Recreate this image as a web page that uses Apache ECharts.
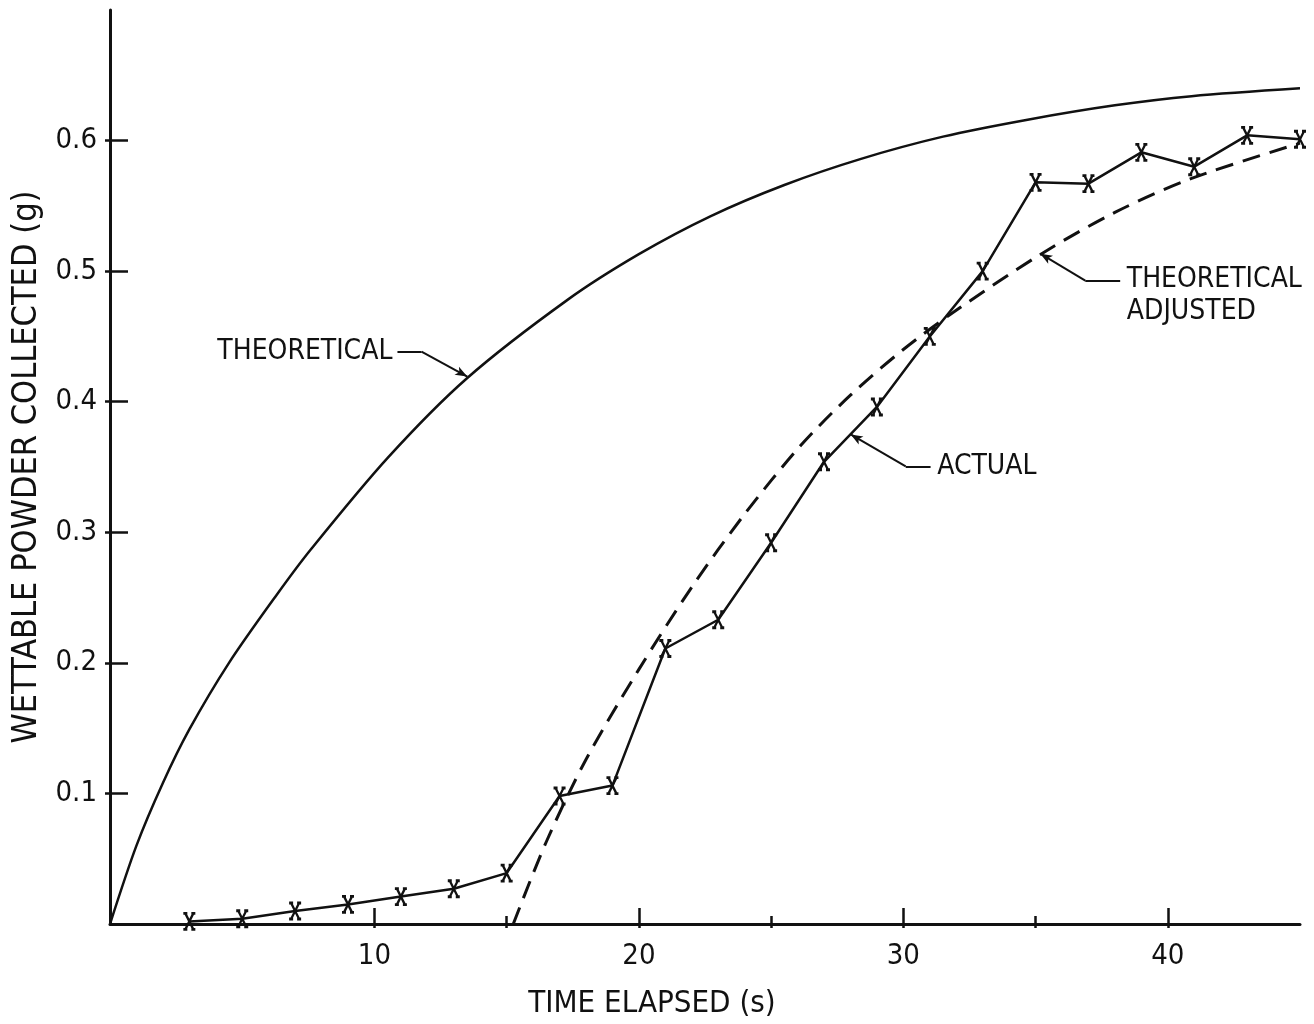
<!DOCTYPE html>
<html>
<head>
<meta charset="utf-8">
<script src="https://cdn.jsdelivr.net/npm/echarts@6/dist/echarts.min.js"></script>
<style>
  html, body { margin: 0; padding: 0; background: #fff; }
  #chart { width: 1314px; height: 1024px; }
</style>
</head>
<body>
<div id="chart"></div>
<script>
// measured points (x = time in s, y = grams)
const actualTime = [3, 5, 7, 9, 11, 13, 15, 17, 19, 21, 23, 25, 27, 29, 31, 33, 35, 37, 39, 41, 43, 45];
const actualValues = [0.002, 0.004, 0.010, 0.015, 0.021, 0.027, 0.039, 0.098, 0.106, 0.211, 0.233, 0.292,
  0.354, 0.396, 0.450, 0.500, 0.568, 0.567, 0.591, 0.580, 0.604, 0.601];

// theoretical curve
const theoreticalTime = [0, 1, 2, 3, 4.5, 6.3, 7.6, 10.5, 13.5, 17.3, 20, 22.7, 25.5, 28.4, 31.5, 34.7, 38, 40.9, 45];
const theoreticalValues = [0, 0.06, 0.108, 0.149, 0.2, 0.252, 0.287, 0.357, 0.418, 0.478, 0.513, 0.542, 0.566,
  0.586, 0.603, 0.616, 0.627, 0.634, 0.640];

// theoretical adjusted (dashed)
const adjustedTime = [15.25, 16.5, 18, 20, 22, 24, 26.1, 28, 30, 32, 35.2, 38, 40.9, 45];
const adjustedValues = [0, 0.063, 0.126, 0.195, 0.258, 0.314, 0.366, 0.405, 0.44, 0.47, 0.513, 0.545, 0.571, 0.598];

const yTickValues = [0.1, 0.2, 0.3, 0.4, 0.5, 0.6];
const xTickValues = [10, 20, 30, 40];
const xMinorTickValues = [15, 25, 35];

const INK = '#111';
const LETTER = "'DejaVu Sans Condensed', 'Liberation Sans Narrow', sans-serif";

function pairs(xs, ys) {
  return xs.map((x, i) => [x, ys[i]]);
}

// callout leader lines and their text (in data coordinates)
const calloutLines = [
  [[10.87, 0.4384], [11.78, 0.4384], [13.51, 0.4193]],
  [[31.03, 0.3504], [30.09, 0.3504], [28.01, 0.3749]],
  [[38.2, 0.4927], [36.88, 0.4927], [35.18, 0.5134]]
];
const calloutText = [
  { name: 'THEORETICAL', coord: [4.04, 0.4384] },
  { name: 'ACTUAL', coord: [31.26, 0.3504] },
  { name: 'THEORETICAL\nADJUSTED', coord: [38.43, 0.4813] }
];

function leaderSegments() {
  const segs = [];
  calloutLines.forEach(p => {
    segs.push([{ coord: p[0], symbol: 'none' }, { coord: p[1], symbol: 'none' }]);
    segs.push([{ coord: p[1], symbol: 'none' }, { coord: p[2], symbol: 'arrow', symbolSize: [7, 12] }]);
  });
  return segs;
}

const crossPath = 'path://M2,0L10,16M10,0L2,16M0,0H4M8,0H12M0,16H4M8,16H12';

const chart = echarts.init(document.getElementById('chart'));

const yBase = { type: 'value', min: 0, max: 0.7, interval: 0.1, splitLine: { show: false } };
const xBase = { type: 'value', min: 0, max: 45, interval: 10, splitLine: { show: false } };

chart.setOption({
  animation: false,
  backgroundColor: '#fff',
  grid: { left: 110, right: 14, top: 10, bottom: 99 },
  xAxis: [
    Object.assign({}, xBase, {
      position: 'bottom',
      name: 'TIME ELAPSED (s)',
      nameLocation: 'middle',
      nameGap: 64,
      nameTextStyle: { fontFamily: LETTER, fontSize: 31, color: INK, padding: [0, 106, 0, 0] },
      axisLine: { lineStyle: { color: INK, width: 3 } },
      axisTick: { inside: true, length: 16, customValues: xTickValues, lineStyle: { color: INK, width: 2.5 } },
      axisLabel: { customValues: xTickValues, margin: 18, fontFamily: LETTER, fontSize: 29, color: INK }
    }),
    Object.assign({}, xBase, {
      position: 'bottom',
      axisLine: { show: false },
      axisTick: { inside: true, length: 8, customValues: xMinorTickValues, lineStyle: { color: INK, width: 2.5 } },
      axisLabel: { show: false }
    }),
    Object.assign({}, xBase, {
      position: 'bottom',
      axisLine: { show: false },
      axisTick: { inside: false, length: 4, customValues: xTickValues.concat(xMinorTickValues), lineStyle: { color: INK, width: 2.5 } },
      axisLabel: { show: false }
    })
  ],
  yAxis: [
    Object.assign({}, yBase, {
      position: 'left',
      name: 'WETTABLE POWDER COLLECTED (g)',
      nameLocation: 'middle',
      nameRotate: 90,
      nameGap: 64,
      nameTextStyle: { fontFamily: LETTER, fontSize: 34, color: INK },
      axisLine: { show: true, lineStyle: { color: INK, width: 3 } },
      axisTick: { show: true, inside: true, length: 18, customValues: yTickValues, lineStyle: { color: INK, width: 2.5 } },
      axisLabel: { customValues: yTickValues, margin: 13, fontFamily: LETTER, fontSize: 29, color: INK,
        formatter: v => v.toFixed(1) }
    }),
    Object.assign({}, yBase, {
      position: 'left',
      axisLine: { show: false },
      axisTick: { show: true, inside: false, length: 5, customValues: yTickValues, lineStyle: { color: INK, width: 2.5 } },
      axisLabel: { show: false }
    })
  ],
  series: [
    {
      name: 'Theoretical',
      type: 'line',
      data: pairs(theoreticalTime, theoreticalValues),
      smooth: 0.3,
      showSymbol: false,
      lineStyle: { color: INK, width: 2.5 },
      markLine: {
        silent: true,
        animation: false,
        label: { show: false },
        lineStyle: { color: INK, width: 2, type: 'solid' },
        data: leaderSegments()
      },
      markPoint: {
        silent: true,
        symbol: 'circle',
        symbolSize: 1,
        itemStyle: { color: 'rgba(0,0,0,0)' },
        label: {
          show: true,
          position: 'right',
          distance: 0,
          formatter: p => p.name,
          fontFamily: LETTER,
          fontSize: 28,
          lineHeight: 32,
          color: INK
        },
        data: calloutText
      },
      z: 3
    },
    {
      name: 'Theoretical adjusted',
      type: 'line',
      data: pairs(adjustedTime, adjustedValues),
      smooth: 0.3,
      showSymbol: false,
      lineStyle: { color: INK, width: 3, type: [18, 10] },
      z: 2
    },
    {
      name: 'Actual',
      type: 'line',
      data: pairs(actualTime, actualValues),
      symbol: crossPath,
      symbolSize: [12, 16],
      itemStyle: { color: INK, borderColor: INK, borderWidth: 2.5 },
      lineStyle: { color: INK, width: 2.5 },
      z: 4
    }
  ]
});
</script>
</body>
</html>
